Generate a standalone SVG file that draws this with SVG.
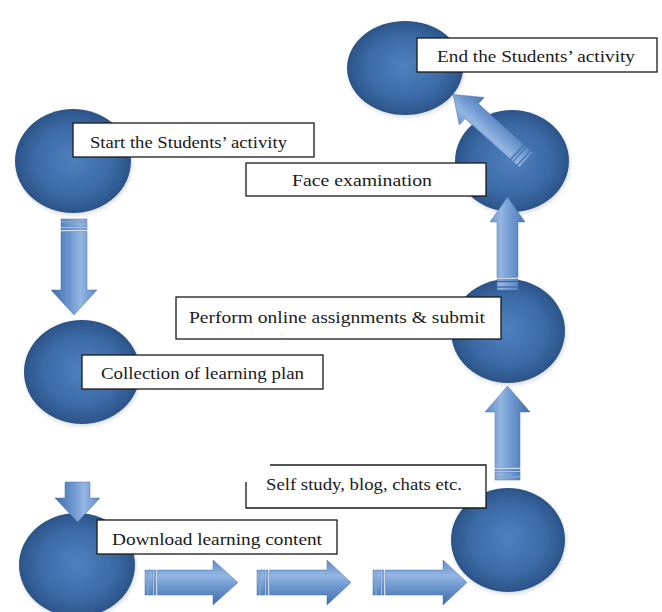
<svg xmlns="http://www.w3.org/2000/svg" width="662" height="612" viewBox="0 0 662 612">
<defs>
<radialGradient id="ball" cx="50%" cy="50%" r="50%" fx="50%" fy="48%">
<stop offset="0" stop-color="#4f80bf"/>
<stop offset="0.65" stop-color="#3c6ba6"/>
<stop offset="1" stop-color="#2b5489"/>
</radialGradient>
<linearGradient id="arr" gradientUnits="userSpaceOnUse" x1="0" y1="-23" x2="0" y2="23">
<stop offset="0" stop-color="#5d89c4"/>
<stop offset="0.35" stop-color="#93b5e2"/>
<stop offset="0.6" stop-color="#6d97cf"/>
<stop offset="1" stop-color="#3e6aa6"/>
</linearGradient>
<filter id="sh" x="-20%" y="-20%" width="140%" height="140%">
<feGaussianBlur in="SourceAlpha" stdDeviation="2"/>
<feOffset dx="1" dy="2"/>
<feComponentTransfer><feFuncA type="linear" slope="0.15"/></feComponentTransfer>
<feMerge><feMergeNode/><feMergeNode in="SourceGraphic"/></feMerge>
</filter>
</defs>
<style>
.ball{fill:url(#ball);filter:url(#sh)}
.a{fill:url(#arr);stroke:#4a76b0;stroke-width:0.5}
.box{fill:#fff;stroke:#1a1a1a;stroke-width:1.3}
.t{font-family:"Liberation Serif","DejaVu Serif",serif;font-size:17.5px;fill:#1a1a1a}
</style>
<rect width="662" height="612" fill="#fff"/>

<g id="circles">
<ellipse id="c-start" class="ball" cx="73" cy="161" rx="58" ry="52"/>
<ellipse id="c-collect" class="ball" cx="82" cy="372" rx="58" ry="52"/>
<ellipse id="c-download" class="ball" cx="77" cy="565" rx="58" ry="52"/>
<ellipse id="c-self" class="ball" cx="508" cy="540" rx="57" ry="52"/>
<ellipse id="c-perform" class="ball" cx="508" cy="331" rx="57" ry="52"/>
<ellipse id="c-face" class="ball" cx="512" cy="161" rx="57" ry="51"/>
<ellipse id="c-end" class="ball" cx="405" cy="68" rx="58" ry="47"/>
</g>

<g id="connectors">
<g transform="translate(74,219) rotate(90)">
<rect class="a" x="0" y="-13" width="2.5" height="26"/><rect class="a" x="3.5" y="-13" width="4.5" height="26"/><rect class="a" x="9" y="-13" width="2" height="26"/>
<polygon class="a" points="12.5,-13 71,-13 71,-23 96,0 71,23 71,13 12.5,13"/>
</g>
<g transform="translate(77.5,482) rotate(90)">
<polygon class="a" points="0,-12.5 16,-12.5 16,-22.5 40,0 16,22.5 16,12.5 0,12.5"/>
</g>
<g transform="translate(145,582.5)">
<rect class="a" x="0" y="-12.5" width="2.5" height="25"/><rect class="a" x="3.5" y="-12.5" width="4.5" height="25"/><rect class="a" x="9" y="-12.5" width="2" height="25"/>
<polygon class="a" points="12.5,-12.5 68,-12.5 68,-22.5 93,0 68,22.5 68,12.5 12.5,12.5"/>
</g>
<g transform="translate(257,582.5)">
<rect class="a" x="0" y="-12.5" width="2.5" height="25"/><rect class="a" x="3.5" y="-12.5" width="4.5" height="25"/><rect class="a" x="9" y="-12.5" width="2" height="25"/>
<polygon class="a" points="12.5,-12.5 70,-12.5 70,-22.5 94,0 70,22.5 70,12.5 12.5,12.5"/>
</g>
<g transform="translate(373,582.5)">
<rect class="a" x="0" y="-12.5" width="2.5" height="25"/><rect class="a" x="3.5" y="-12.5" width="4.5" height="25"/><rect class="a" x="9" y="-12.5" width="2" height="25"/>
<polygon class="a" points="12.5,-12.5 70,-12.5 70,-22.5 94,0 70,22.5 70,12.5 12.5,12.5"/>
</g>
<g transform="translate(507.5,480) rotate(-90)">
<rect class="a" x="0" y="-12.5" width="2.5" height="25"/><rect class="a" x="3.5" y="-12.5" width="4.5" height="25"/><rect class="a" x="9" y="-12.5" width="2" height="25"/>
<polygon class="a" points="12.5,-12.5 68,-12.5 68,-22.5 94,0 68,22.5 68,12.5 12.5,12.5"/>
</g>
<g transform="translate(507.5,290) rotate(-90)">
<rect class="a" x="0" y="-10.5" width="2.5" height="21"/><rect class="a" x="3.5" y="-10.5" width="4.5" height="21"/><rect class="a" x="9" y="-10.5" width="2" height="21"/>
<polygon class="a" points="12.5,-10.5 68,-10.5 68,-17.5 93,0 68,17.5 68,10.5 12.5,10.5"/>
</g>
<g transform="translate(526,160) rotate(-138)">
<rect class="a" x="0" y="-10" width="2.5" height="20"/><rect class="a" x="3.5" y="-10" width="4.5" height="20"/><rect class="a" x="9" y="-10" width="2" height="20"/>
<polygon class="a" points="12.5,-10 73,-10 73,-18.5 98,0 73,18.5 73,10 12.5,10"/>
</g>
</g>

<g id="n-start"><rect class="box" x="73" y="123" width="241" height="34"/><text class="t" x="90" y="148" textLength="197" lengthAdjust="spacingAndGlyphs">Start the Students’ activity</text></g>
<g id="n-face"><rect class="box" x="246" y="163" width="240" height="33"/><text class="t" x="292" y="186" textLength="140" lengthAdjust="spacingAndGlyphs">Face examination</text></g>
<g id="n-end"><rect class="box" x="417" y="38" width="240" height="34"/><text class="t" x="437" y="62" textLength="198" lengthAdjust="spacingAndGlyphs">End the Students’ activity</text></g>
<g id="n-collect"><rect class="box" x="82" y="355" width="241" height="34"/><text class="t" x="101" y="379" textLength="203" lengthAdjust="spacingAndGlyphs">Collection of learning plan</text></g>
<g id="n-perform"><rect class="box" x="176" y="297" width="325" height="42"/><text class="t" x="189" y="323" textLength="296" lengthAdjust="spacingAndGlyphs">Perform online assignments &amp; submit</text></g>
<g id="n-self"><rect x="246" y="465" width="240" height="43" fill="#fff"/><path d="M270,465 H486 V508 H246 V482" fill="none" stroke="#1a1a1a" stroke-width="1.3"/><text class="t" x="266" y="490" textLength="196" lengthAdjust="spacingAndGlyphs">Self study, blog, chats etc.</text></g>
<g id="n-download"><rect class="box" x="97" y="520" width="240" height="34"/><text class="t" x="112" y="545" textLength="210" lengthAdjust="spacingAndGlyphs">Download learning content</text></g>
</svg>
